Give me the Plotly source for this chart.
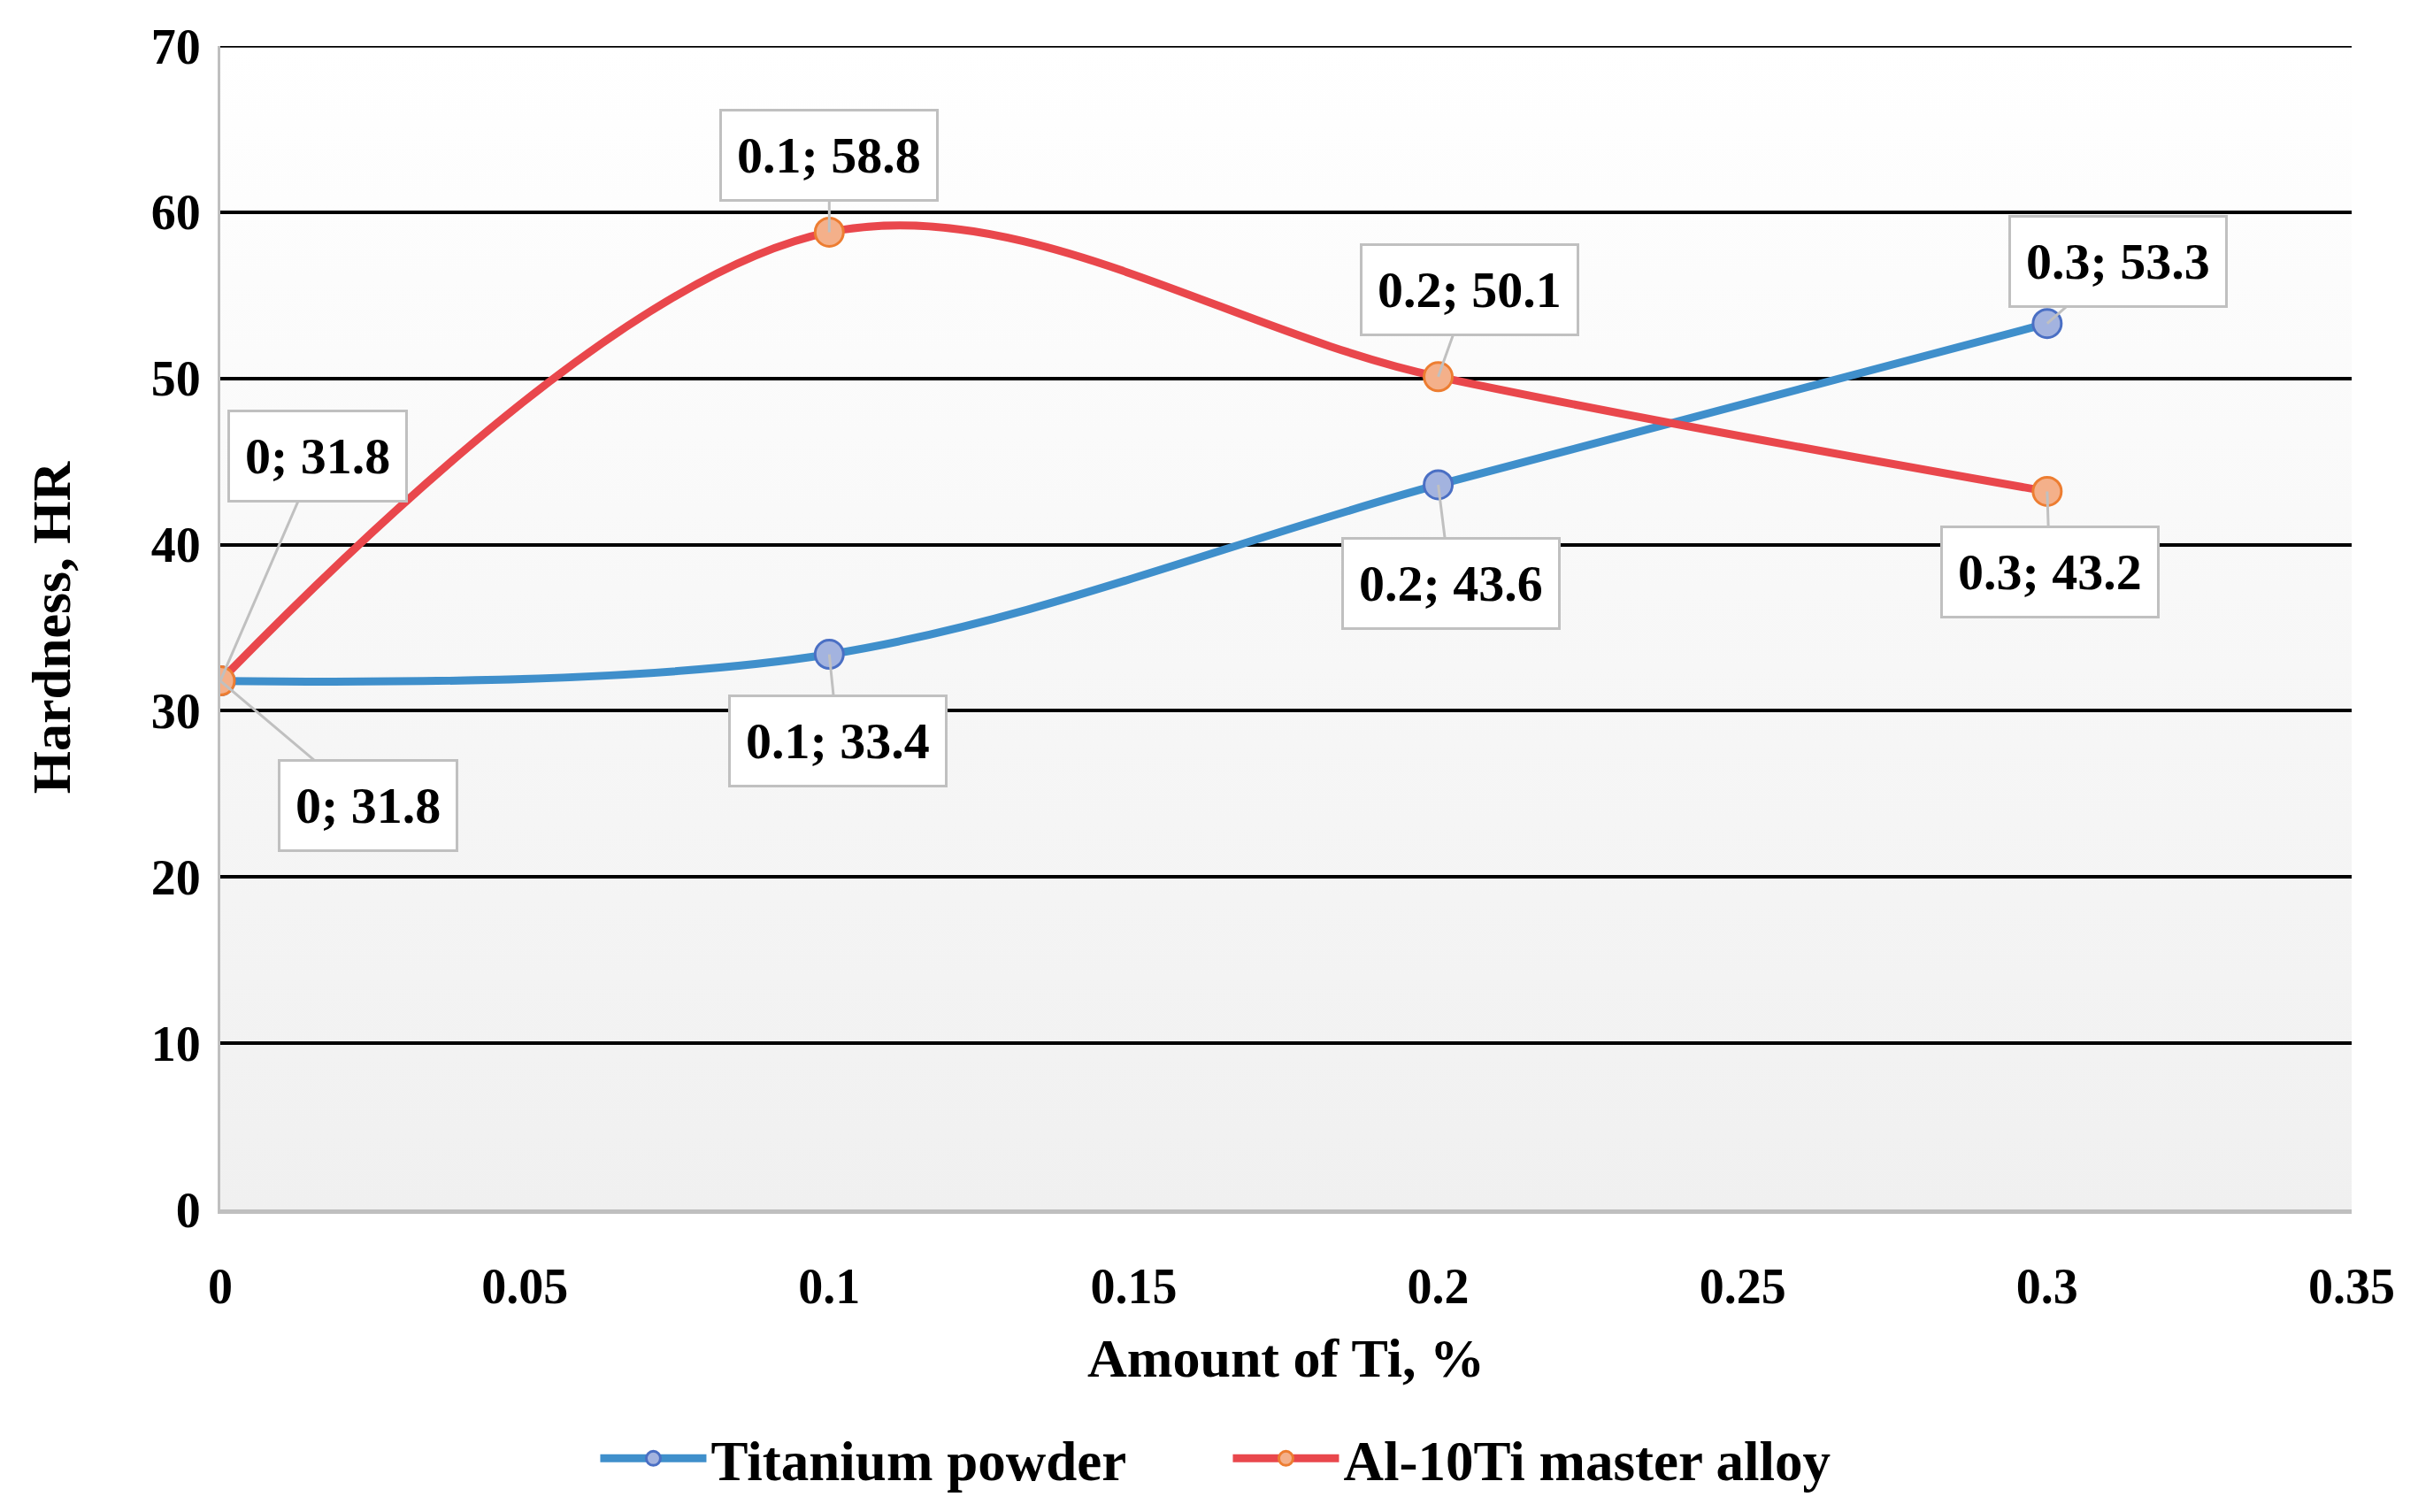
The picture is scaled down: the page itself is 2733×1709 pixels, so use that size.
import base64
import plotly.graph_objects as go

# ---- data ----
ti_amount = [0, 0.1, 0.2, 0.3]
titanium_powder = [31.8, 33.4, 43.6, 53.3]
al10ti_master_alloy = [31.8, 58.8, 50.1, 43.2]
series_names = ["Titanium powder", "Al-10Ti master alloy"]
x_ticks = [0, 0.05, 0.1, 0.15, 0.2, 0.25, 0.3, 0.35]
x_tick_labels = ["0", "0.05", "0.1", "0.15", "0.2", "0.25", "0.3", "0.35"]
y_ticks = [0, 10, 20, 30, 40, 50, 60, 70]

# label offsets (pixels) for the data callouts
blue_offsets = [(167, 141), (10, 98), (14, 112), (80, -70)]
red_offsets = [(110, -254), (0, -87), (35, -98), (3, 91)]

FONT = "Liberation Serif"
BLUE = "#3f8fcb"
RED = "#e9474c"

fig = go.Figure()

fig.add_trace(go.Scatter(
    x=ti_amount, y=titanium_powder, name=f"<b>{series_names[0]}</b>",
    mode="lines+markers", line=dict(color=BLUE, width=9, shape="spline", smoothing=1.0),
    marker=dict(size=32, color="#a3b3df", line=dict(color="#4a6fc4", width=3)),
))
fig.add_trace(go.Scatter(
    x=ti_amount, y=al10ti_master_alloy, name=f"<b>{series_names[1]}</b>",
    mode="lines+markers", line=dict(color=RED, width=9, shape="spline", smoothing=1.0),
    marker=dict(size=32, color="#f4b08a", line=dict(color="#ed7d31", width=3)),
))

def fmt(v):
    return f"{v:g}"

annots = []
for xs, ys, offs in [(ti_amount, titanium_powder, blue_offsets), (ti_amount, al10ti_master_alloy, red_offsets)]:
    for xv, yv, (ax, ay) in zip(xs, ys, offs):
        annots.append(dict(
            x=xv, y=yv, xref="x", yref="y",
            text=f"<b>{fmt(xv)}; {fmt(yv)}</b>",
            showarrow=True, arrowhead=0, arrowwidth=3, arrowcolor="#c0c0c0",
            ax=ax, ay=ay, standoff=0,
            bgcolor="white", bordercolor="#c0c0c0", borderwidth=3, borderpad=17,
            font=dict(family=FONT, size=58, color="black"),
        ))

svg = ("<svg xmlns='http://www.w3.org/2000/svg' width='10' height='100' preserveAspectRatio='none'>"
       "<defs><linearGradient id='g' x1='0' y1='0' x2='0' y2='1'>"
       "<stop offset='0' stop-color='#ffffff'/><stop offset='1' stop-color='#f0f0f0'/>"
       "</linearGradient></defs><rect width='10' height='100' fill='url(#g)'/></svg>")
src = "data:image/svg+xml;base64," + base64.b64encode(svg.encode()).decode()

fig.update_layout(
    width=2733, height=1709,
    margin=dict(l=249, r=75, t=52, b=342),
    paper_bgcolor="white", plot_bgcolor="rgba(0,0,0,0)",
    font=dict(family=FONT, size=56, color="black"),
    annotations=annots,
    images=[dict(source=src, xref="paper", yref="paper", x=0, y=1, sizex=1, sizey=1,
                 xanchor="left", yanchor="top", sizing="stretch", layer="below")],
    shapes=[dict(type="line", xref="paper", yref="y", x0=0, x1=1, y0=70, y1=70,
                 line=dict(color="black", width=3.5), layer="below")],
    legend=dict(orientation="h", x=0.473, y=-0.214, xanchor="center", yanchor="middle",
                font=dict(family=FONT, size=63, color="black"),
                itemwidth=120, entrywidth=580, entrywidthmode="pixels",
                bgcolor="rgba(0,0,0,0)"),
    xaxis=dict(range=[0, 0.35], tickvals=x_ticks, ticktext=[f"<b>{t}</b>" for t in x_tick_labels],
               showgrid=False, zeroline=False, showline=True, linecolor="#bfbfbf", linewidth=5,
               ticks="outside", ticklen=34, tickcolor="rgba(0,0,0,0)",
               tickfont=dict(family=FONT, size=56),
               title=dict(text="<b>Amount of Ti, %</b>", font=dict(family=FONT, size=62), standoff=30)),
    yaxis=dict(range=[0, 70], tickvals=y_ticks, ticktext=[f"<b>{t}</b>" for t in y_ticks],
               showgrid=True, gridcolor="black", gridwidth=3.5, zeroline=False,
               showline=True, linecolor="#bfbfbf", linewidth=3,
               ticks="outside", ticklen=8, tickcolor="rgba(0,0,0,0)",
               tickfont=dict(family=FONT, size=56),
               title=dict(text="<b>Hardness, HR</b>", font=dict(family=FONT, size=62), standoff=72)),
    showlegend=True,
)

fig.write_html("out.html")
